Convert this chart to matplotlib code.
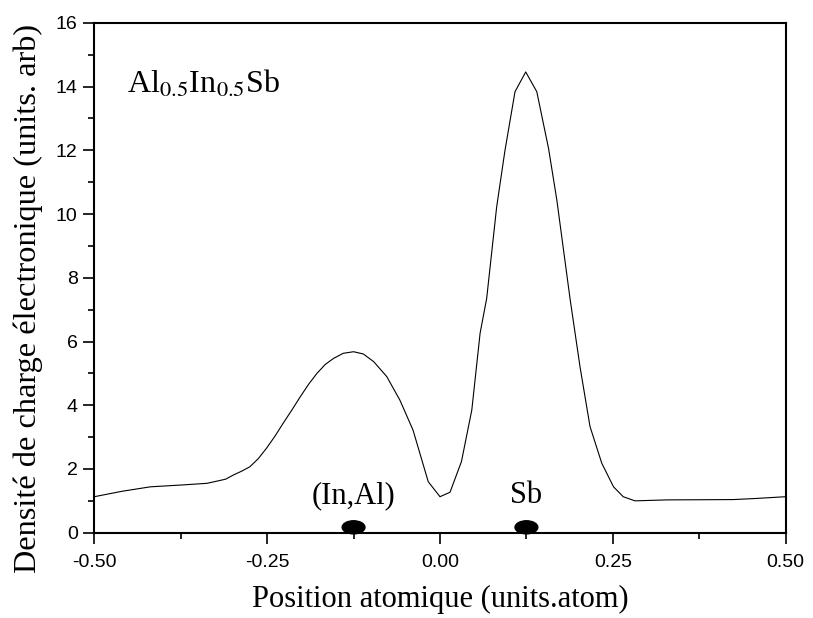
import matplotlib
matplotlib.use('Agg')
import matplotlib.pyplot as plt
from matplotlib.patches import Ellipse
from matplotlib.ticker import MultipleLocator, FormatStrFormatter

# valeurs
position = [-0.5, -0.46, -0.419, -0.372, -0.337, -0.31, -0.299, -0.287, -0.275, -0.263,
            -0.251, -0.239, -0.227, -0.214, -0.202, -0.19, -0.178, -0.166, -0.154,
            -0.140, -0.125, -0.111, -0.096, -0.077, -0.058, -0.039, -0.017, 0.0,
            0.0145, 0.031, 0.046, 0.058, 0.0675, 0.082, 0.094, 0.1085, 0.124, 0.140,
            0.157, 0.169, 0.188, 0.2025, 0.217, 0.234, 0.251, 0.265, 0.282, 0.328,
            0.424, 0.453, 0.5]
densite = [1.13, 1.30, 1.44, 1.50, 1.55, 1.68, 1.81, 1.93, 2.07, 2.32,
           2.65, 3.02, 3.43, 3.86, 4.27, 4.66, 5.0, 5.28, 5.47,
           5.63, 5.68, 5.61, 5.37, 4.9, 4.16, 3.22, 1.6, 1.13,
           1.27, 2.23, 3.85, 6.26, 7.35, 10.23, 12.0, 13.84, 14.46, 13.84,
           12.06, 10.44, 7.36, 5.21, 3.33, 2.18, 1.44, 1.13, 1.0, 1.03,
           1.04, 1.07, 1.13]

atomes = ['(In,Al)', 'Sb']
atome_x = [-0.125, 0.125]

plt.rcParams['mathtext.fontset'] = 'stix'
serif = 'Liberation Serif'
sans = 'Liberation Sans'

fig = plt.figure(figsize=(8.13, 6.18), dpi=100)
ax = fig.add_axes([0.116, 0.138, 0.8504, 0.825])

ax.plot(position, densite, color='black', lw=0.8)

for name, xa in zip(atomes, atome_x):
    ax.add_patch(Ellipse((xa, 0.17), 0.033, 0.41, color='black', clip_on=False))
    ax.text(xa, 0.72, name, ha='center', va='bottom', fontsize=22, family=serif)

ax.text(-0.452, 13.8, r'Al$_{0.5}$In$_{0.5}$Sb', fontsize=23, family=serif,
        ha='left', va='baseline')

ax.set_xlim(-0.5, 0.5)
ax.set_ylim(0, 16)
ax.xaxis.set_major_locator(MultipleLocator(0.25))
ax.xaxis.set_minor_locator(MultipleLocator(0.125))
ax.xaxis.set_major_formatter(FormatStrFormatter('%.2f'))
ax.yaxis.set_major_locator(MultipleLocator(2))
ax.yaxis.set_minor_locator(MultipleLocator(1))

for s in ax.spines.values():
    s.set_linewidth(1.5)

ax.tick_params(which='major', direction='out', length=8, width=1.2,
               labelsize=14, top=False, right=False)
ax.tick_params(which='minor', direction='out', length=4.5, width=1.2,
               top=False, right=False)
ax.tick_params(axis='x', which='major', pad=7)
ax.tick_params(axis='y', which='major', pad=4)
for lab in ax.get_xticklabels() + ax.get_yticklabels():
    lab.set_family(sans)

ax.set_xlabel('Position atomique (units.atom)', fontsize=22, family=serif, labelpad=10)
ax.set_ylabel('Densité de charge électronique (units. arb)', fontsize=23.3,
              family=serif)
ax.yaxis.set_label_coords(-0.074, 0.46)

fig.savefig('out.png', dpi=100)
